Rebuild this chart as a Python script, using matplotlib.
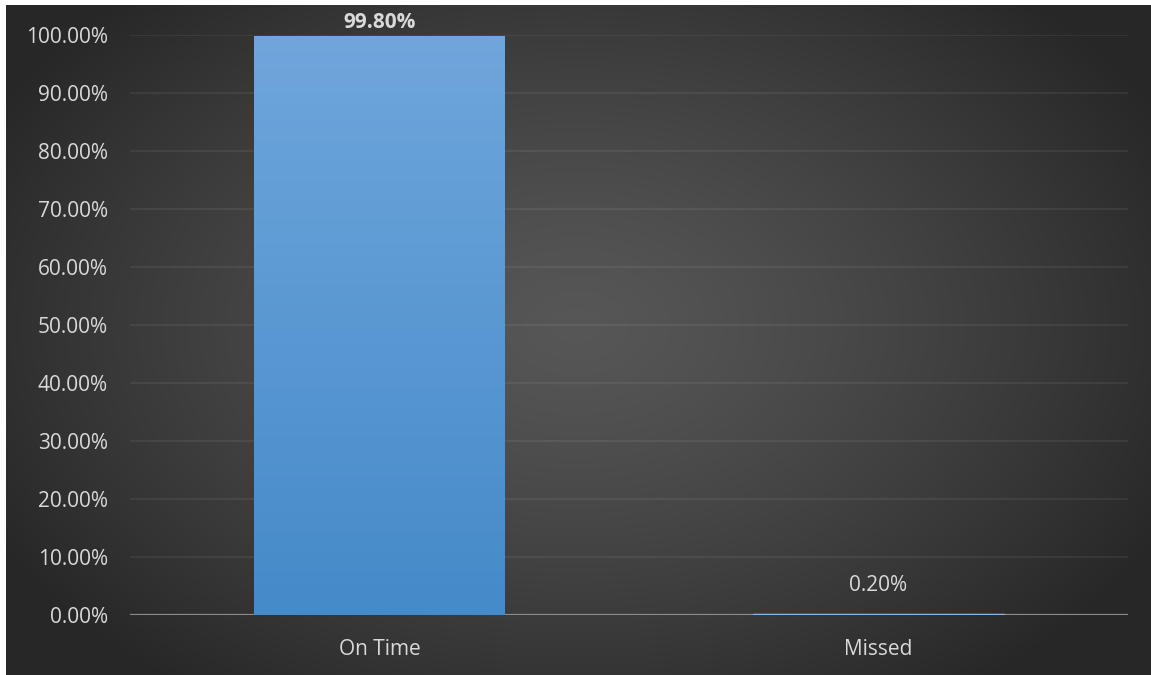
import numpy as np
import matplotlib.pyplot as plt
from matplotlib.colors import LinearSegmentedColormap
from matplotlib.ticker import FuncFormatter

# Delivery status shares
categories = ['On Time', 'Missed']
shares = [0.998, 0.002]
label_offsets = [3, 18]  # px above bar top; first one is pinned by the plot top

W, H = 1151, 675
fig = plt.figure(figsize=(W / 100, H / 100), dpi=100)
fig.patch.set_facecolor('white')

# Dark radial backdrop behind the whole chart
bg = fig.add_axes([6 / W, 0, 1 - 6 / W, (H - 5) / H])
bg.set_axis_off()
yy, xx = np.mgrid[0:670, 0:1145]
r = np.sqrt(((xx - 570) / 660.0) ** 2 + ((yy - 320) / 450.0) ** 2)
r = np.clip(r, 0, 1)
shade = 0.34 - (0.34 - 0.155) * r ** 1.3
bg.imshow(np.dstack([shade, shade, shade]), aspect='auto', extent=[0, 1145, 670, 0])
bg.set_zorder(0)

ax = fig.add_axes([130 / W, (H - 615) / H, 998 / W, 580 / H])
ax.set_zorder(1)
ax.patch.set_alpha(0)

font = 'Open Sans'
text_color = '#d9d9d9'

x = np.arange(len(categories))
bars = ax.bar(x, shares, width=0.503, facecolor='none', edgecolor='none', zorder=4)
bars[1].set_edgecolor('#8ab6e2')
bars[1].set_linewidth(1.0)

# vertical blue gradient fill clipped to each bar
blue = LinearSegmentedColormap.from_list('blue', ['#458ac9', '#6fa6dc'])
grad = np.linspace(0, 1, 256).reshape(-1, 1)
for b in bars:
    x0, y0 = b.get_x(), b.get_y()
    im = ax.imshow(grad, cmap=blue, origin='lower', aspect='auto', zorder=3,
                   extent=[x0, x0 + b.get_width(), y0, y0 + b.get_height()])
    im.set_clip_path(b)

ax.set_xlim(-0.5, 1.5)
ax.set_ylim(0, 1.0)
ax.set_yticks(np.arange(0, 1.01, 0.1))
ax.yaxis.set_major_formatter(FuncFormatter(lambda v, p: f'{v * 100:.2f}%'))
ax.set_xticks(x)
ax.set_xticklabels(categories)

ax.grid(axis='y', color='white', alpha=0.07, linewidth=1.3, zorder=1)
ax.axhline(0, color='#8c8c8c', linewidth=1.6, zorder=2)
for s in ax.spines.values():
    s.set_visible(False)

ax.tick_params(axis='both', length=0, colors=text_color, labelsize=15)
ax.tick_params(axis='y', pad=16)
ax.tick_params(axis='x', pad=17)
for lbl in ax.get_xticklabels() + ax.get_yticklabels():
    lbl.set_fontfamily(font)

for i, (xi, v) in enumerate(zip(x, shares)):
    ax.annotate(f'{v * 100:.2f}%', (xi, v), xytext=(0, label_offsets[i] * 0.72),
                textcoords='offset points', ha='center', va='bottom',
                fontsize=15, fontfamily=font, color=text_color,
                fontweight='bold' if i == 0 else 'normal', annotation_clip=False)

fig.savefig('out.png', dpi=100, facecolor=fig.get_facecolor())
